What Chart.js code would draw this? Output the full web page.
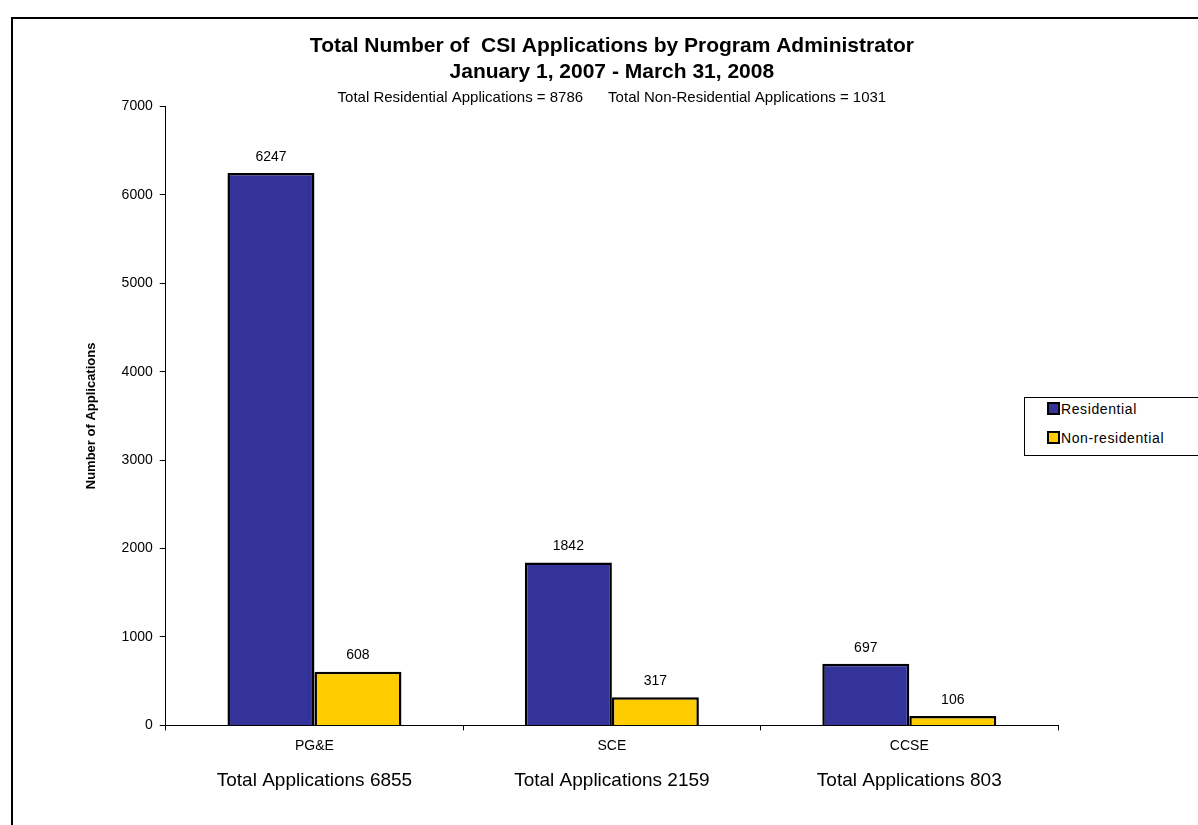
<!DOCTYPE html>
<html>
<head>
<meta charset="utf-8">
<script src="https://cdn.jsdelivr.net/npm/chart.js@4.4.1/dist/chart.umd.min.js"></script>
<style>
  body { margin: 0; background: #fff; font-family: Arial, "Liberation Sans", sans-serif; }
  .wrap { position: relative; width: 1198px; height: 825px; overflow: hidden; }
  .frame { position: absolute; left: 11px; top: 17px; right: -4px; bottom: -4px;
    border-left: 2px solid #000; border-top: 2px solid #000; }
  #chart { position: absolute; left: 0; top: 0; }
  .legend { position: absolute; left: 1024px; top: 397px; width: 180px; height: 57px;
    border: 1px solid #000; background: #fff; font-size: 14px; color: #000; letter-spacing: 0.6px; }
  .legend div { position: absolute; left: 22px; white-space: nowrap; }
  .legend span { display: inline-block; width: 9px; height: 9px; border: 2px solid #000;
    vertical-align: -1px; margin-right: 1px; }
</style>
</head>
<body>
<div class="wrap">
  <div class="frame"></div>
  <canvas id="chart" width="1198" height="825"></canvas>
  <div class="legend" id="legend"></div>
</div>
<script>
// data
const administrators = ["PG&E", "SCE", "CCSE"];
const totalLabels = ["Total Applications 6855", "Total Applications 2159", "Total Applications 803"];
const residential = [6247, 1842, 697];
const nonResidential = [608, 317, 106];
const seriesNames = ["Residential", "Non-residential"];
const seriesColors = ["#333399", "#FFCC00"];

// value labels above the bars
const barLabels = {
  id: "barLabels",
  afterDatasetsDraw(chart) {
    const ctx = chart.ctx;
    ctx.save();
    ctx.font = "14px Arial";
    ctx.fillStyle = "#000";
    ctx.textAlign = "center";
    ctx.textBaseline = "middle";
    chart.data.datasets.forEach((ds, i) => {
      chart.getDatasetMeta(i).data.forEach((bar, j) => {
        ctx.fillText(ds.data[j], bar.x, bar.y - 16);
      });
    });
    ctx.restore();
  },
};

const ctx = document.getElementById("chart").getContext("2d");
const myChart = new Chart(ctx, {
  type: "bar",
  data: {
    labels: administrators,
    datasets: [
      {
        label: seriesNames[0],
        data: residential,
        backgroundColor: seriesColors[0],
        borderColor: "#000",
        borderWidth: 2.5,
      },
      {
        label: seriesNames[1],
        data: nonResidential,
        backgroundColor: seriesColors[1],
        borderColor: "#000",
        borderWidth: 2.5,
      },
    ],
  },
  options: {
    responsive: false,
    animation: false,
    categoryPercentage: 0.585,
    barPercentage: 1,
    layout: { padding: { left: 84, right: 140, top: 34, bottom: 33 } },
    plugins: {
      legend: { display: false },
      tooltip: { enabled: false },
      title: {
        display: true,
        fullSize: false,
        text: ["Total Number of  CSI Applications by Program Administrator", "January 1, 2007 - March 31, 2008"],
        color: "#000",
        font: { family: "Arial", size: 21, weight: "bold", lineHeight: 1.2 },
        padding: { top: 0, bottom: 4 },
      },
      subtitle: {
        display: true,
        fullSize: false,
        text: "Total Residential Applications = 8786      Total Non-Residential Applications = 1031",
        color: "#000",
        font: { family: "Arial", size: 15 },
        padding: { top: 0, bottom: 0 },
      },
    },
    scales: {
      x: {
        offset: true,
        grid: { offset: true, drawOnChartArea: false, tickLength: 5, color: "#000" },
        border: { color: "#000", width: 1 },
        ticks: { color: "#000", font: { family: "Arial", size: 14 }, padding: 7 },
      },
      x2: {
        type: "category",
        position: "bottom",
        labels: totalLabels,
        offset: true,
        grid: { display: false },
        border: { display: false },
        ticks: { color: "#000", font: { family: "Arial", size: 19 }, padding: 0 },
      },
      y: {
        min: 0,
        max: 7000,
        ticks: {
          stepSize: 1000,
          color: "#000",
          font: { family: "Arial", size: 14 },
          padding: 7,
          callback: (v) => String(v),
        },
        grid: { drawOnChartArea: false, tickLength: 6, color: "#000" },
        border: { color: "#000", width: 1 },
        title: {
          display: true,
          text: "Number of Applications",
          color: "#000",
          font: { family: "Arial", size: 13, weight: "bold" },
          padding: { top: 0, bottom: 15 },
        },
      },
    },
  },
  plugins: [barLabels],
});

// legend box
const legend = document.getElementById("legend");
seriesNames.forEach((name, i) => {
  const item = document.createElement("div");
  item.style.top = i === 0 ? "3px" : "32px";
  item.innerHTML = '<span style="background:' + seriesColors[i] + '"></span>' + name;
  legend.appendChild(item);
});
</script>
</body>
</html>
